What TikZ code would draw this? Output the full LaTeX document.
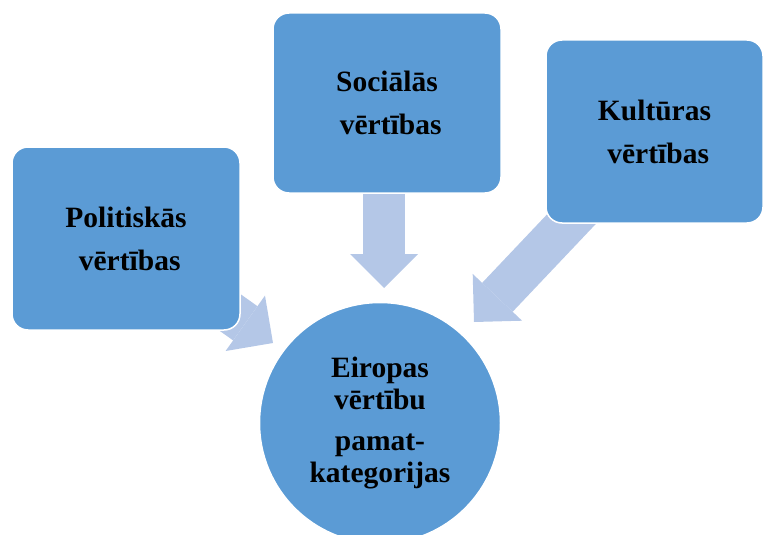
\documentclass[tikz,border=0pt]{standalone}
\usepackage{fontspec}
\setmainfont{Liberation Serif}
\usetikzlibrary{arrows.meta,backgrounds}
\definecolor{boxblue}{HTML}{5B9BD5}
\definecolor{arrowblue}{HTML}{B4C7E7}

\begin{document}
\begin{tikzpicture}[x=1pt,y=-1pt,
  value node/.style={rectangle,rounded corners=16pt,fill=boxblue,draw=white,line width=1.5pt,align=center,inner sep=0pt,font=\bfseries\fontsize{29.5}{43}\selectfont},
  core node/.style={circle,fill=boxblue,draw=white,line width=1.5pt,align=center,inner sep=0pt,minimum size=241pt,font=\bfseries\fontsize{29.5}{32}\selectfont},
  flow/.style={color=arrowblue,line width=42pt,-{Triangle[width=68pt,length=34pt,line width=0pt]}}]
                \useasboundingbox (0,0) rectangle (764,535);
                \clip (0,0) rectangle (764,535);
                \node[value node,minimum width=228pt,minimum height=183pt] (pol) at (126,238.5) {Politiskās\\\ vērtības};
                \node[value node,minimum width=228pt,minimum height=180pt] (soc) at (387,103) {Sociālās\\\ vērtības};
                \node[value node,minimum width=217pt,minimum height=183pt] (cult) at (654.5,131.5) {Kultūras\\\ vērtības};
                \node[core node] (core) at (380,423) {Eiropas\\vērtību\\[9pt]pamat-\\kategorijas};

                \begin{scope}[on background layer]
                    \coordinate (poltip) at (273,343);
                    \coordinate (soctip) at (384,288);
                    \coordinate (culttip) at (474,322);
                    \path[flow]
                        (pol.center) edge (poltip)
                        (soctip |- soc.center) edge (soctip)
                        (cult.center) edge (culttip)
                        ;
                \end{scope}
            \end{tikzpicture}
\end{document}
